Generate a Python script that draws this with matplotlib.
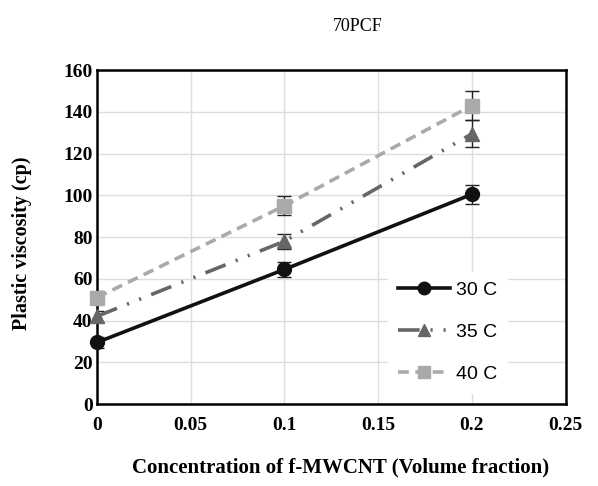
import matplotlib

matplotlib.use("Agg")

import matplotlib.pyplot as plt

conc = [0.0, 0.1, 0.2]
labels = ["30 C", "35 C", "40 C"]
visc_30 = [29.5, 64.5, 100.5]
visc_35 = [42.0, 78.0, 129.5]
visc_40 = [51.0, 95.0, 143.0]
err_30 = [2.5, 3.5, 4.5]
err_35 = [2.5, 3.5, 6.5]
err_40 = [3.0, 4.5, 7.0]

x_ticks = [0, 0.05, 0.1, 0.15, 0.2, 0.25]
x_ticklabels = ["0", "0.05", "0.1", "0.15", "0.2", "0.25"]
y_ticks = [0, 20, 40, 60, 80, 100, 120, 140, 160]

serif = "Liberation Serif"
sans = ["Liberation Sans", "DejaVu Sans"]

fig = plt.figure(figsize=(5.98, 4.86), dpi=100)
ax = fig.add_axes([0.162, 0.1687, 0.784, 0.687])

styles = [
    dict(color="#111111", ls="-", marker="o", lw=2.6, ms=10),
    dict(color="#666666", ls=(0, (6, 3, 0.6, 3, 0.6, 3)), marker="^", lw=2.6, ms=10),
    dict(color="#aaaaaa", ls=(0, (3, 1.8)), marker="s", lw=2.6, ms=10),
]
series = [visc_30, visc_35, visc_40]
errs = [err_30, err_35, err_40]

for vals, er, lab, st in zip(series, errs, labels, styles):
    ax.errorbar(conc, vals, yerr=er, ecolor="#222222", elinewidth=1.0,
                capsize=5, capthick=1.0, zorder=3, fmt="none")
    ax.plot(conc, vals, label=lab, zorder=4, clip_on=False, **st)

ax.set_xlim(0, 0.25)
ax.set_ylim(0, 160)
ax.set_xticks(x_ticks)
ax.set_xticklabels(x_ticklabels)
ax.set_yticks(y_ticks)
ax.grid(True, color="#dddddd", lw=1.0, zorder=0)
ax.set_axisbelow(True)
for sp in ax.spines.values():
    sp.set_linewidth(1.8)
    sp.set_color("black")
ax.tick_params(axis="x", length=0, pad=9)
ax.tick_params(axis="y", length=0, pad=3)
for t in ax.get_xticklabels() + ax.get_yticklabels():
    t.set_fontfamily(serif)
    t.set_fontweight("bold")
    t.set_fontsize(14)

leg = ax.legend(loc="upper left", bbox_to_anchor=(0.6, 0.425), frameon=True,
                prop={"family": sans, "size": 14}, handlelength=2.7,
                labelspacing=1.25, handletextpad=0.3, borderpad=0.5,
                fancybox=False, markerscale=0.9)
leg.get_frame().set_edgecolor("white")
leg.get_frame().set_facecolor("white")
leg.get_frame().set_alpha(1.0)

fig.text(0.598, 0.945, "70PCF", family=serif, fontsize=13, ha="center", va="center")
fig.text(0.57, 0.038, "Concentration of f-MWCNT (Volume fraction)", family=serif,
         fontsize=15, fontweight="bold", ha="center", va="center")
fig.text(0.037, 0.5, "Plastic viscosity (cp)", family=serif, fontsize=14.5,
         fontweight="bold", ha="center", va="center", rotation=90)

fig.savefig("out.png", dpi=100)
